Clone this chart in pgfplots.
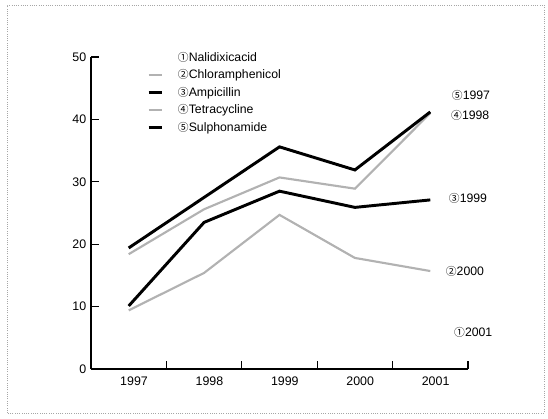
\documentclass[border=0pt]{standalone}
\usepackage{pgfplots}
\pgfplotsset{compat=1.18}
\usepackage{fontspec}
\setmainfont{Liberation Sans}
\newfontfamily\cjk[Scale=0.88]{Noto Sans CJK KR}
\begin{document}
\begin{tikzpicture}
\useasboundingbox (0pt,0pt) rectangle (411pt,313.5pt);
\draw[gray!70, densely dotted, line width=0.7pt] (5.25pt,3.75pt) rectangle (408pt,309.75pt);
\begin{axis}[
  at={(68.25pt,36.75pt)}, anchor=south west,
  scale only axis, width=282.75pt, height=234pt,
  xmin=-0.5, xmax=4.5, ymin=0, ymax=50,
  axis x line=bottom, axis y line=left,
  axis line style={-, line width=0.8pt},
  every tick/.style={black, line width=0.8pt},
  tick align=inside,
  major tick length=6pt,
  xtick={0.5,1.5,2.5,3.5,4.5}, xticklabels={},
  extra x ticks={0,1,2,3,4},
  extra x tick labels={1997,1998,1999,2000,2001},
  extra x tick style={major tick length=0pt, tick label style={xshift=4pt, yshift=-2pt}},
  ytick={0,10,20,30,40,50},
  /pgf/number format/assume math mode=true,
  /pgf/number format/1000 sep={},
  tick label style={font=\fontsize{9.3}{11}\selectfont},
  clip=false,
  legend style={draw=none, fill=none, at={(0.148,1.024)}, anchor=north west,
    font=\fontsize{9.2}{11}\selectfont, row sep=0.7pt, inner sep=0pt},
  legend cell align=left,
  legend image code/.code={\draw[#1] (0pt,0pt) -- (10pt,0pt); \path (19pt,0pt);},
]
\addlegendimage{empty legend}
\addlegendentry{{\cjk ①}Nalidixicacid}
\addplot[gray!60, line width=1.6pt] coordinates {(0,9.4) (1,15.4) (2,24.7) (3,17.8) (4,15.7)};
\addlegendentry{{\cjk ②}Chloramphenicol}
\addplot[black, line width=2.2pt] coordinates {(0,10.1) (1,23.5) (2,28.5) (3,25.9) (4,27.1)};
\addlegendentry{{\cjk ③}Ampicillin}
\addplot[gray!60, line width=1.6pt] coordinates {(0,18.4) (1,25.6) (2,30.7) (3,28.9) (4,41.0)};
\addlegendentry{{\cjk ④}Tetracycline}
\addplot[black, line width=2.2pt] coordinates {(0,19.4) (1,27.5) (2,35.6) (3,31.9) (4,41.2)};
\addlegendentry{{\cjk ⑤}Sulphonamide}
\node[font=\fontsize{9.2}{11}\selectfont] at (axis cs:4.54,43.9) {{\cjk ⑤}1997};
\node[font=\fontsize{9.2}{11}\selectfont] at (axis cs:4.53,40.7) {{\cjk ④}1998};
\node[font=\fontsize{9.2}{11}\selectfont] at (axis cs:4.50,27.4) {{\cjk ③}1999};
\node[font=\fontsize{9.2}{11}\selectfont] at (axis cs:4.46,15.7) {{\cjk ②}2000};
\node[font=\fontsize{9.2}{11}\selectfont] at (axis cs:4.57,5.8) {{\cjk ①}2001};
\end{axis}
\end{tikzpicture}
\end{document}
